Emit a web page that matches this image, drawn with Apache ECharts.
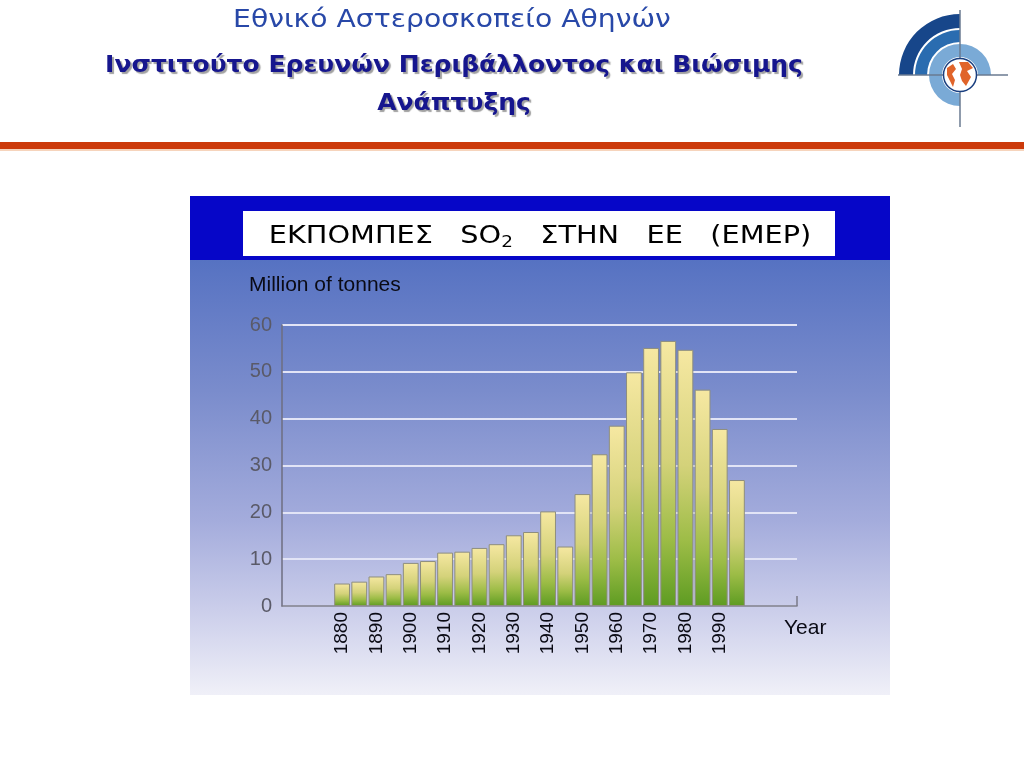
<!DOCTYPE html>
<html><head><meta charset="utf-8">
<script src="https://cdn.jsdelivr.net/npm/echarts@6/dist/echarts.min.js"></script>
<style>html,body{margin:0;padding:0;background:#fff}#c{width:1024px;height:768px}</style>
</head><body><div id="c"></div>
<script>
// Axis slots (5-year steps), including empty padding slots at both ends
const axisYears = ['1865','1870','1875','1880','1885','1890','1895','1900','1905','1910','1915','1920','1925','1930','1935','1940','1945','1950','1955','1960','1965','1970','1975','1980','1985','1990','1995','2000','2005','2010'];
// Years with data
const years = ['1880','1885','1890','1895','1900','1905','1910','1915','1920','1925','1930','1935','1940','1945','1950','1955','1960','1965','1970','1975','1980','1985','1990','1995'];
// SO2 emissions, million tonnes
const emissions = [4.8,5.2,6.3,6.8,9.2,9.6,11.4,11.6,12.4,13.2,15.1,15.8,20.2,12.7,23.9,32.4,38.5,49.9,55.1,56.6,54.7,46.2,37.8,26.9];
// Labelled years on the x axis
const labelYears = ['1880','1890','1900','1910','1920','1930','1940','1950','1960','1970','1980','1990'];
const yTicks = [0,10,20,30,40,50,60];

const chart = echarts.init(document.getElementById('c'), null, {renderer:'canvas'});

const cx = 960, cy = 75;
const shadow = {textShadowColor:'rgba(120,120,120,0.7)', textShadowOffsetX:2, textShadowOffsetY:2, textShadowBlur:1};
const option = {
  backgroundColor: '#ffffff',
  animation: false,
  graphic: { elements: [
    // header
    {type:'text', x:452, y:20, scaleX:1.13, z:5, style:{text:'Εθνικό Αστεροσκοπείο Αθηνών', fontFamily:'DejaVu Sans', fontSize:25, fill:'#2848a8', align:'center', verticalAlign:'middle'}},
    {type:'text', x:454, y:66, scaleX:1.087, z:5, style:Object.assign({text:'Ινστιτούτο Ερευνών Περιβάλλοντος και Βιώσιμης', fontFamily:'DejaVu Sans', fontWeight:'bold', fontSize:23, fill:'#16168e', align:'center', verticalAlign:'middle'}, shadow)},
    {type:'text', x:454, y:104, scaleX:1.087, z:5, style:Object.assign({text:'Ανάπτυξης', fontFamily:'DejaVu Sans', fontWeight:'bold', fontSize:23, fill:'#16168e', align:'center', verticalAlign:'middle'}, shadow)},
    // orange rule
    {type:'rect', shape:{x:0, y:142, width:1024, height:7}, style:{fill:'#cc3a0a'}},
    {type:'rect', shape:{x:0, y:149, width:1024, height:2}, style:{fill:'#f6d4bc'}},
    // logo
    {type:'sector', shape:{cx:cx, cy:cy, r0:47, r:61, startAngle:Math.PI, endAngle:Math.PI*1.5}, style:{fill:'#17468a'}},
    {type:'sector', shape:{cx:cx, cy:cy, r0:33, r:45, startAngle:Math.PI, endAngle:Math.PI*1.5}, style:{fill:'#2a6cb0'}},
    {type:'sector', shape:{cx:cx, cy:cy, r0:18, r:31, startAngle:Math.PI*0.5, endAngle:Math.PI*2}, style:{fill:'#7aaad6'}},
    {type:'line', shape:{x1:cx, y1:10, x2:cx, y2:127}, style:{stroke:'#6a7a90', lineWidth:1.5}},
    {type:'line', shape:{x1:898, y1:cy, x2:1008, y2:cy}, style:{stroke:'#6a7a90', lineWidth:1.5}},
    {type:'circle', shape:{cx:cx, cy:cy, r:16.5}, style:{fill:'#ffffff', stroke:'#1a3f80', lineWidth:1.5}},
    {type:'polygon', shape:{points:[[cx-13,cy-7],[cx-7,cy-11],[cx-4,cy-6],[cx-8,cy-1],[cx-5,cy+5],[cx-7,cy+12],[cx-10,cy+6],[cx-13,cy]]}, style:{fill:'#e0642a'}},
    {type:'polygon', shape:{points:[[cx-1,cy-13],[cx+8,cy-13],[cx+13,cy-7],[cx+7,cy-4],[cx+11,cy+2],[cx+6,cy+11],[cx+2,cy+6],[cx,cy],[cx+2,cy-6]]}, style:{fill:'#e0642a'}},
    // chart panel
    {type:'rect', z:-10, shape:{x:190, y:196, width:700, height:64}, style:{fill:'#0606c8'}},
    {type:'rect', z:-10, shape:{x:190, y:260, width:700, height:435}, style:{fill:{type:'linear', x:0, y:0, x2:0, y2:1, colorStops:[
      {offset:0, color:'#5672c2'}, {offset:0.3, color:'#7a8ccc'}, {offset:0.6, color:'#a4acdc'}, {offset:0.8, color:'#cacdea'}, {offset:1, color:'#f0f0f8'}]}}},
    {type:'rect', z:-5, shape:{x:243, y:211, width:592, height:45}, style:{fill:'#ffffff'}},
    {type:'text', x:540, y:236, scaleX:1.15, z:5, style:{
      text:'{a|ΕΚΠΟΜΠΕΣ   SO}{s|2}{a|   ΣΤΗΝ   ΕΕ   (ΕΜΕΡ)}', align:'center', verticalAlign:'middle',
      rich:{a:{fontFamily:'DejaVu Sans', fontSize:25, fill:'#000000', color:'#000000'},
            s:{fontFamily:'DejaVu Sans', fontSize:16, fill:'#000000', color:'#000000', padding:[14,0,0,0]}}}},
    {type:'text', x:249, y:285, z:5, style:{text:'Million of tonnes', fontFamily:'Liberation Sans', fontSize:21, fill:'#0a0a14', align:'left', verticalAlign:'middle'}},
    {type:'text', x:784, y:628, z:5, style:{text:'Year', fontFamily:'Liberation Sans', fontSize:21, fill:'#0a0a14', align:'left', verticalAlign:'middle'}},
    {type:'line', z:5, shape:{x1:797, y1:596, x2:797, y2:606}, style:{stroke:'#7a7a88', lineWidth:1.5}}
  ]},
  grid: {left:282, right:227, top:325, bottom:162, containLabel:false},
  xAxis: {
    type:'category', data: axisYears, boundaryGap:true,
    axisLine:{show:true, lineStyle:{color:'#7a7a88', width:1.5}},
    axisTick:{show:false},
    axisLabel:{rotate:90, margin:6, fontFamily:'Liberation Sans', fontSize:19, color:'#0a0a14',
      interval:(idx, val) => labelYears.indexOf(val) >= 0},
    splitLine:{show:false}
  },
  yAxis: {
    type:'value', min:yTicks[0], max:yTicks[yTicks.length-1], interval:10,
    axisLine:{show:true, lineStyle:{color:'#6e6e80', width:1.5}},
    axisTick:{show:false},
    axisLabel:{margin:10, fontFamily:'Liberation Sans', fontSize:20, color:'#5a5a68'},
    splitLine:{show:true, lineStyle:{color:'#e2e4f6', width:2}}
  },
  series: [{
    type:'bar',
    data: years.map((y, i) => [y, emissions[i]]),
    barCategoryGap:'8%',
    itemStyle:{
      borderColor:'#8e8e7e', borderWidth:1,
      color:{type:'linear', x:0, y:0, x2:0, y2:1, colorStops:[
        {offset:0, color:'#f6e8a2'}, {offset:0.45, color:'#d4d27a'}, {offset:0.75, color:'#9cbc46'}, {offset:1, color:'#5e9c22'}]}
    }
  }]
};
chart.setOption(option);
</script>
</body></html>
